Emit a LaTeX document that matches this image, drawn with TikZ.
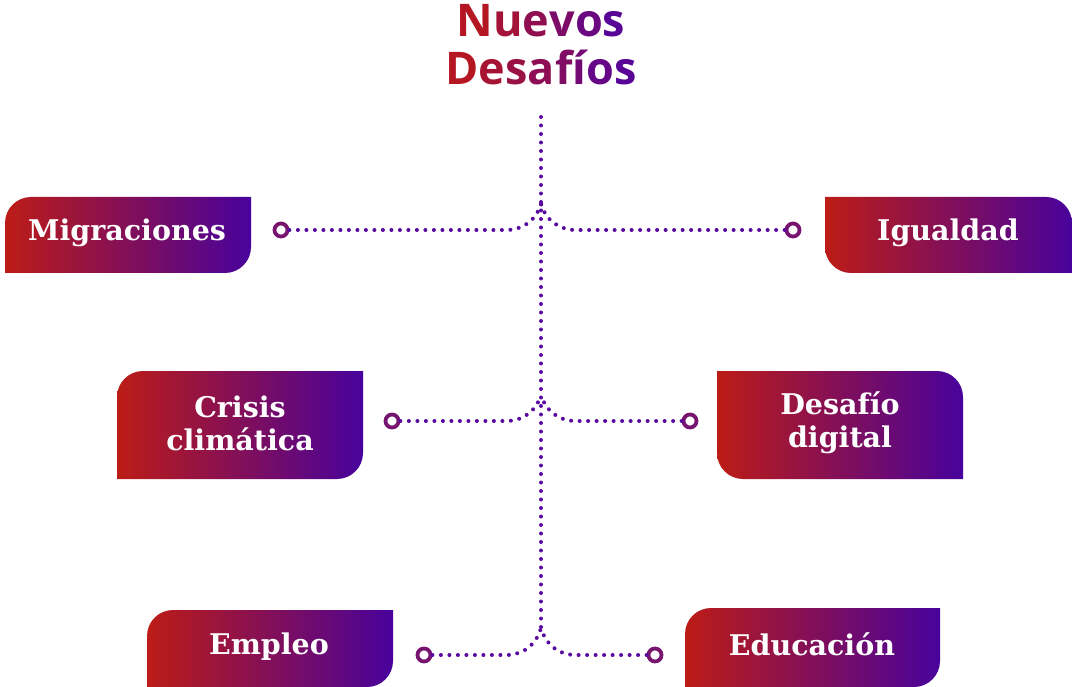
\documentclass[tikz,border=0pt]{standalone}
\usepackage{fontspec}
\newfontfamily\boxfont{DejaVu Serif}
\newfontfamily\titlefont{Open Sans}
\definecolor{bL}{RGB}{188,28,22}
\definecolor{bR}{RGB}{72,2,156}
\definecolor{tA}{RGB}{180,22,34}
\definecolor{tB}{RGB}{88,4,150}
\definecolor{dotc}{RGB}{88,10,160}
\definecolor{ringc}{RGB}{118,20,112}
\tikzset{
 boxshade/.style={left color=bL, right color=bR, draw=none},
 boxtext/.style={text=white, font=\boxfont\bfseries\fontsize{28.5}{33}\selectfont, align=center, inner sep=0pt},
 titletext/.style={font=\titlefont\bfseries\fontsize{45}{48}\selectfont, inner sep=0pt, anchor=base},
 dotline/.style={draw=dotc, line width=4pt, line cap=round, dash pattern=on 0pt off 8.5pt},
 ring/.style={circle, draw=ringc, line width=3.8pt, minimum size=13pt, inner sep=0pt, fill=white},
}
\begin{document}
\begin{tikzpicture}[x=1pt,y=1pt]
\useasboundingbox (0,0) rectangle (1072,-687);
% title
\node[titletext] (t1) at (541,-37) {\textcolor{tB!0!tA}{N}\textcolor{tB!20!tA}{u}\textcolor{tB!40!tA}{e}\textcolor{tB!60!tA}{v}\textcolor{tB!80!tA}{o}\textcolor{tB!100!tA}{s}};
\node[titletext] (t2) at (541,-85) {\textcolor{tB!0!tA}{D}\textcolor{tB!14!tA}{e}\textcolor{tB!28!tA}{s}\textcolor{tB!43!tA}{a}\textcolor{tB!57!tA}{f}\textcolor{tB!71!tA}{í}\textcolor{tB!86!tA}{o}\textcolor{tB!100!tA}{s}};
% boxes: TL+BR rounded
\def\r{26}
\path[boxshade] (5,-273) -- (5,-197-\r) arc[start angle=180,end angle=90,radius=\r] -- (251,-197) -- (251,-273+\r) arc[start angle=0,end angle=-90,radius=\r] -- cycle;
\path[boxshade] (117,-479) -- (117,-371-\r) arc[start angle=180,end angle=90,radius=\r] -- (363,-371) -- (363,-479+\r) arc[start angle=0,end angle=-90,radius=\r] -- cycle;
\path[boxshade] (147,-687) -- (147,-610-\r) arc[start angle=180,end angle=90,radius=\r] -- (393,-610) -- (393,-687+\r) arc[start angle=0,end angle=-90,radius=\r] -- cycle;
\path[boxshade] (685,-687) -- (685,-608-\r) arc[start angle=180,end angle=90,radius=\r] -- (940,-608) -- (940,-687+\r) arc[start angle=0,end angle=-90,radius=\r] -- cycle;
% boxes: TR+BL rounded
\path[boxshade] (825,-197) -- (1072-\r,-197) arc[start angle=90,end angle=0,radius=\r] -- (1072,-273) -- (825+\r,-273) arc[start angle=270,end angle=180,radius=\r] -- cycle;
\path[boxshade] (717,-371) -- (963-\r,-371) arc[start angle=90,end angle=0,radius=\r] -- (963,-479) -- (717+\r,-479) arc[start angle=270,end angle=180,radius=\r] -- cycle;
% box texts
\node[boxtext] (mig) at (127,-233) {Migraciones};
\node[boxtext] (igu) at (948,-233) {Igualdad};
\node[boxtext] (cri) at (240,-423) {Crisis\\climática};
\node[boxtext] (dig) at (840,-423) {Desafío\\digital};
\node[boxtext] (emp) at (269,-647) {Empleo};
\node[boxtext] (edu) at (812,-644) {Educación};
% trunk
\coordinate (vtop) at (541,-117);
\coordinate (vbot) at (541,-628);
\draw[dotline] (vtop) -- (vbot);
% junctions
\coordinate (j1) at (541,-204);
\coordinate (j2) at (541,-395);
\coordinate (j3) at (541,-628);
% rings
\node[ring] (cL1) at (281,-230) {};
\node[ring] (cR1) at (793,-230) {};
\node[ring] (cL2) at (392,-421) {};
\node[ring] (cR2) at (690,-421) {};
\node[ring] (cL3) at (424,-655) {};
\node[ring] (cR3) at (655,-655) {};
% bend points
\coordinate (kL1) at (508,-230); \coordinate (kR1) at (574,-230);
\coordinate (kL2) at (508,-421); \coordinate (kR2) at (574,-421);
\coordinate (kL3) at (508,-655); \coordinate (kR3) at (574,-655);
% branches
\draw[dotline] (cL1.east) -- (kL1) .. controls (524,-229) and (536,-220) .. (j1);
\draw[dotline] (cR1.west) -- (kR1) .. controls (558,-229) and (546,-220) .. (j1);
\draw[dotline] (cL2.east) -- (kL2) .. controls (524,-420) and (536,-411) .. (j2);
\draw[dotline] (cR2.west) -- (kR2) .. controls (558,-420) and (546,-411) .. (j2);
\draw[dotline] (cL3.east) -- (kL3) .. controls (524,-654) and (536,-645) .. (j3);
\draw[dotline] (cR3.west) -- (kR3) .. controls (558,-654) and (546,-645) .. (j3);
\end{tikzpicture}
\end{document}
